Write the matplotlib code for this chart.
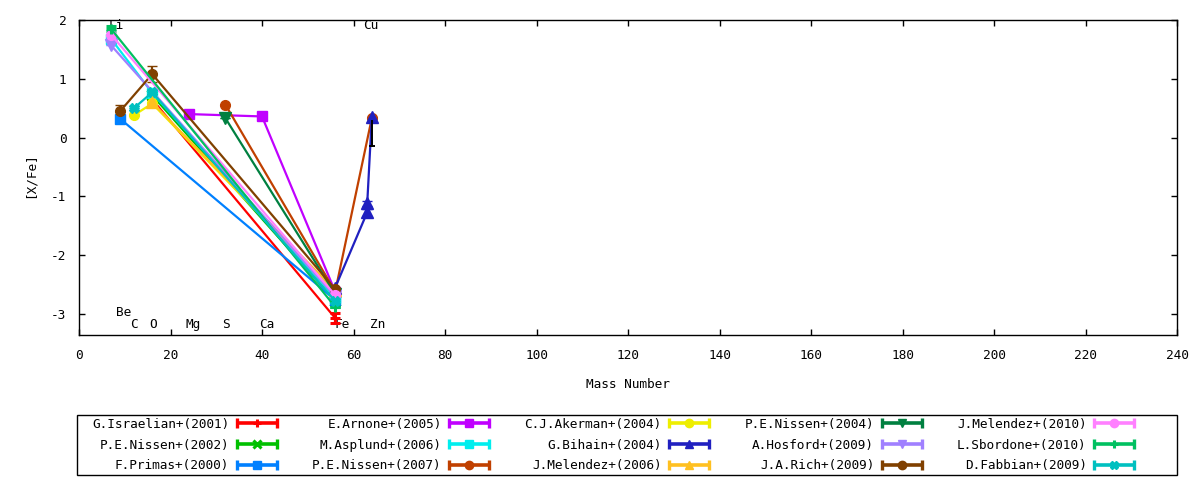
import matplotlib
matplotlib.use('Agg')
import matplotlib.pyplot as plt
from matplotlib.lines import Line2D
from matplotlib.patches import Rectangle
from matplotlib.legend_handler import HandlerBase

plt.rcParams['font.family'] = ['DejaVu Sans Mono', 'DejaVu Sans']
plt.rcParams['font.size'] = 9.2
plt.rcParams['axes.unicode_minus'] = False

# ---------------- data ----------------
series_labels = [
    "G.Israelian+(2001)", "P.E.Nissen+(2002)", "F.Primas+(2000)",
    "E.Arnone+(2005)", "M.Asplund+(2006)", "P.E.Nissen+(2007)",
    "C.J.Akerman+(2004)", "G.Bihain+(2004)", "J.Melendez+(2006)",
    "P.E.Nissen+(2004)", "A.Hosford+(2009)", "J.A.Rich+(2009)",
    "J.Melendez+(2010)", "L.Sbordone+(2010)", "D.Fabbian+(2009)",
]
series_colors = [
    "#ff0000", "#00c000", "#0080ff",
    "#c000ff", "#00eeee", "#c04000",
    "#eeee00", "#2020c0", "#ffc020",
    "#008040", "#a080ff", "#804000",
    "#ff80ff", "#00c060", "#00c0c0",
]
series_markers = [
    "+", "x", "s",
    "s", "s", "o",
    "o", "^", "^",
    "v", "v", "o",
    "o", "+", "X",
]

israelian_x = [16, 56];          israelian_y = [0.65, -3.07];        israelian_e = [0.0, 0.09]
nissen02_x = [16, 56];           nissen02_y = [0.72, -2.78];         nissen02_e = [0.0, 0.0]
primas_x = [9, 56];              primas_y = [0.32, -2.76];           primas_e = [0.0, 0.0]
arnone_x = [24, 40, 56];         arnone_y = [0.40, 0.36, -2.62];     arnone_e = [0.0, 0.0, 0.0]
asplund_x = [7, 16, 56];         asplund_y = [1.68, 0.76, -2.72];    asplund_e = [0.0, 0.0, 0.0]
nissen07_x = [32, 56, 64];       nissen07_y = [0.56, -2.62, 0.33];   nissen07_e = [0.0, 0.0, 0.0]
akerman_x = [12, 16, 56];        akerman_y = [0.38, 0.58, -2.63];    akerman_e = [0.0, 0.0, 0.0]
bihain_x = [56, 63, 63, 64];     bihain_y = [-2.55, -1.27, -1.12, 0.35]; bihain_e = [0.0, 0.06, 0.05, 0.0]
melendez06_x = [16, 56];         melendez06_y = [0.60, -2.60];       melendez06_e = [0.0, 0.0]
nissen04_x = [32, 56];           nissen04_y = [0.33, -2.66];         nissen04_e = [0.0, 0.0]
hosford_x = [7, 56];             hosford_y = [1.57, -2.70];          hosford_e = [0.0, 0.0]
rich_x = [9, 16, 56];            rich_y = [0.45, 1.08, -2.58];       rich_e = [0.10, 0.13, 0.0]
melendez10_x = [7, 56];          melendez10_y = [1.75, -2.68];       melendez10_e = [0.0, 0.0]
sbordone_x = [7, 56];            sbordone_y = [1.85, -2.88];         sbordone_e = [0.04, 0.0]
fabbian_x = [12, 16, 56];        fabbian_y = [0.50, 0.77, -2.78];    fabbian_e = [0.0, 0.0, 0.0]

series_x = [israelian_x, nissen02_x, primas_x, arnone_x, asplund_x, nissen07_x,
            akerman_x, bihain_x, melendez06_x, nissen04_x, hosford_x, rich_x,
            melendez10_x, sbordone_x, fabbian_x]
series_y = [israelian_y, nissen02_y, primas_y, arnone_y, asplund_y, nissen07_y,
            akerman_y, bihain_y, melendez06_y, nissen04_y, hosford_y, rich_y,
            melendez10_y, sbordone_y, fabbian_y]
series_e = [israelian_e, nissen02_e, primas_e, arnone_e, asplund_e, nissen07_e,
            akerman_e, bihain_e, melendez06_e, nissen04_e, hosford_e, rich_e,
            melendez10_e, sbordone_e, fabbian_e]

# extra black segment near Zn
extra_x = [64, 64]
extra_y = [0.28, -0.15]

elem_names = ["Li", "Be", "C", "O", "Mg", "S", "Ca", "Fe", "Cu", "Zn"]
elem_x = [8.1, 9.8, 12.1, 16.1, 25.0, 32.1, 41.0, 57.6, 63.8, 65.2]
elem_y = [1.90, -2.97, -3.17, -3.17, -3.17, -3.17, -3.17, -3.17, 1.90, -3.17]

x_ticks = [0, 20, 40, 60, 80, 100, 120, 140, 160, 180, 200, 220, 240]
y_ticks = [-3, -2, -1, 0, 1, 2]

# ---------------- figure ----------------
W, H = 1200, 480
fig = plt.figure(figsize=(12, 4.8), dpi=100)
ax = fig.add_axes([79 / W, 1 - 335 / H, 1098 / W, 315 / H])

for name, ex, ey in zip(elem_names, elem_x, elem_y):
    ax.text(ex, ey, name, ha='center', va='center', zorder=1, color='black')

for i in range(len(series_labels)):
    mk = series_markers[i]
    ms = 8 if mk in ('^', 'v') else 7
    mew = 2.2 if mk in ('+', 'x') else 1.0
    ax.errorbar(series_x[i], series_y[i], yerr=series_e[i],
                color=series_colors[i], marker=mk, ms=ms, mew=mew,
                lw=1.6, elinewidth=1.6, capsize=3.5, capthick=1.6,
                zorder=2 + i * 0.01)

ax.plot(extra_x, extra_y, color='black', lw=1.4, zorder=3)
ax.plot([extra_x[1]], [extra_y[1]], color='black', marker='_', ms=5, mew=1.4, ls='none', zorder=3)

ax.set_xlim(0, 240)
ax.set_ylim(-3.357, 2.0)
ax.set_xticks(x_ticks)
ax.set_yticks(y_ticks)
ax.tick_params(direction='in', length=4, width=1, top=True, right=True,
               labelsize=9.2, pad=10)
ax.tick_params(axis='y', pad=9)
for sp in ax.spines.values():
    sp.set_linewidth(1.0)

ax.set_xlabel("Mass Number")
ax.xaxis.set_label_coords(0.5, -49 / 315)
ax.xaxis.label.set_va('center')
ax.set_ylabel("[X/Fe]")
ax.yaxis.set_label_coords(-49 / 1098, (335 - 175) / 315)
ax.yaxis.label.set_va('center')


class ErrLineHandler(HandlerBase):
    def create_artists(self, legend, orig_handle, xdescent, ydescent,
                       width, height, fontsize, trans):
        c = orig_handle.get_color()
        y = height / 2.0 - ydescent
        x0 = -xdescent
        x1 = -xdescent + width
        base = Line2D([x0, x1], [y, y], color=c, lw=2.6, solid_capstyle='butt')
        caps = Line2D([x0, x1], [y, y], color=c, ls='none', marker='|', ms=7, mew=2.4)
        mk = Line2D([(x0 + x1) / 2.0], [y], color=c, ls='none',
                    marker=orig_handle.get_marker(),
                    ms=orig_handle.get_markersize(),
                    mew=orig_handle.get_markeredgewidth())
        for a in (base, caps, mk):
            a.set_transform(trans)
        return [base, caps, mk]


proxies = []
for i in range(len(series_labels)):
    mk = series_markers[i]
    proxies.append(Line2D([], [], color=series_colors[i], marker=mk,
                          ms=6,
                          mew=2.2 if mk in ('+', 'x') else 1.0))

fig.patches.append(Rectangle((77 / W, 5 / H), 1100 / W, 60 / H,
                             transform=fig.transFigure, fill=False,
                             ec='black', lw=1.0))
fig.legend(handles=proxies, labels=series_labels, ncol=5,
           handler_map={Line2D: ErrLineHandler()},
           loc='center', bbox_to_anchor=(92 / W, 5 / H, 1042 / W, 60 / H),
           bbox_transform=fig.transFigure, mode='expand', frameon=False,
           markerfirst=False, handlelength=3.1, handletextpad=0.6,
           labelspacing=0.62, borderpad=0, borderaxespad=0,
           fontsize=9.2)

fig.savefig("out.png", dpi=100)
